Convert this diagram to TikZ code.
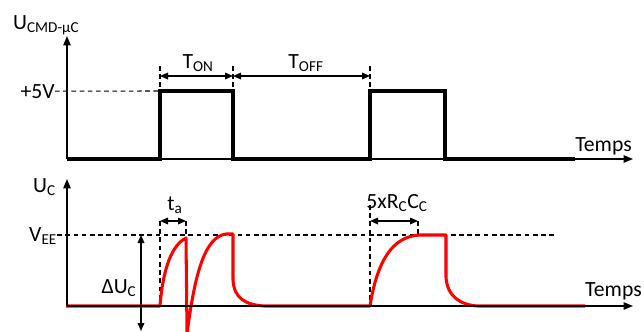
\documentclass[tikz,border=0pt]{standalone}
\usepackage{fontspec}
\setmainfont{Carlito}
\usepackage{tikz}
\usetikzlibrary{arrows.meta, positioning}
\definecolor{sigred}{RGB}{255,0,0}
\tikzset{
  axis/.style={line width=1.2pt, -{Triangle[length=2.8mm,width=2.2mm]}},
  signal/.style={line width=2.8pt, line join=miter},
  trace/.style={line width=2.6pt, color=sigred, line join=round},
  guide/.style={line width=0.9pt, dash pattern=on 4pt off 3pt},
  dimarrow/.style={line width=1pt, {Triangle[length=2.4mm,width=2mm]}-{Triangle[length=2.4mm,width=2mm]}},
  lbl/.style={inner sep=0pt, font=\fontsize{18.5}{22}\selectfont},
}

\begin{document}
\begin{tikzpicture}[x=0.03cm, y=-0.03cm]
  \useasboundingbox (0,0) rectangle (644,331);
  % top chart: command signal
  \coordinate (o1) at (67,159);
  \coordinate (top1) at (67,36);
  \coordinate (end1) at (633,159);
  \draw[axis] (o1) -- (top1);
  \draw[axis] (o1) -- (end1);
  \node[lbl, anchor=base west] (ucmd) at (13,29) {U\textsubscript{CMD-µC}};
  \node[lbl, anchor=base east] (v5) at (55,98) {+5V};
  \node[lbl, anchor=base east] (temps1) at (632,151) {Temps};
  \draw[guide] (v5.east) -- (160,91);
  \draw[signal] (o1) -- (160,159) -- (160,91) -- (233,91) -- (233,159)
    -- (370,159) -- (370,91) -- (445,91) -- (445,159) -- (575,159);
  % T_on / T_off
  \coordinate (a1) at (160,76);
  \coordinate (a2) at (233,76);
  \coordinate (a3) at (370,76);
  \draw[guide] (160,66) -- (160,91);
  \draw[guide] (233,66) -- (233,91);
  \draw[guide] (370,66) -- (370,91);
  \draw[dimarrow] (a1) -- (a2);
  \draw[dimarrow] (a2) -- (a3);
  \node[lbl, anchor=base] (ton) at (198,68) {T\textsubscript{ON}};
  \node[lbl, anchor=base] (toff) at (306,68) {T\textsubscript{OFF}};

  % bottom chart: capacitor voltage
  \coordinate (o2) at (67,306);
  \coordinate (top2) at (67,179);
  \coordinate (end2) at (633,306);
  \node[lbl, anchor=base west] (uc) at (33,192) {U\textsubscript{C}};
  \node[lbl, anchor=base west] (vee) at (29,241) {V\textsubscript{EE}};
  \node[lbl, anchor=base west] (temps2) at (585,296) {Temps};
  \draw[guide] (vee.east |- 0,235) -- (555,235);
  \draw[guide] (160,221) -- (160,306);
  \draw[guide] (186,221) -- (186,306);
  \draw[guide] (370,205) -- (370,306);
  \draw[guide] (418,221) -- (418,235);
  \coordinate (ta1) at (160,221);
  \coordinate (ta2) at (186,221);
  \coordinate (rc1) at (370,221);
  \coordinate (rc2) at (418,221);
  \draw[dimarrow] (ta1) -- (ta2);
  \draw[dimarrow] (rc1) -- (rc2);
  \node[lbl, anchor=base] (ta) at (175,210) {t\textsubscript{a}};
  \node[lbl, anchor=base] (rc) at (397,208) {5xR\textsubscript{C}C\textsubscript{C}};
  \coordinate (du1) at (141,235);
  \coordinate (du2) at (141,331);
  \draw[dimarrow] (du1) -- (du2);
  \node[lbl, anchor=base] (duc) at (119,293) {ΔU\textsubscript{C}};
  \draw[trace] (66,306) -- (160,306)
    .. controls (163,268) and (172,245) .. (186,238) -- (187,334)
    .. controls (195,272) and (205,237) .. (226,234) -- (233,234)
    -- (233,280) .. controls (234,298) and (245,305) .. (265,306)
    -- (370,306) .. controls (377,262) and (392,236) .. (420,235)
    -- (446,235) -- (446,277) .. controls (447,296) and (460,305) .. (478,306)
    -- (585,306);
  \draw[axis] (o2) -- (top2);
  \draw[axis] (o2) -- (end2);
\end{tikzpicture}
\end{document}
